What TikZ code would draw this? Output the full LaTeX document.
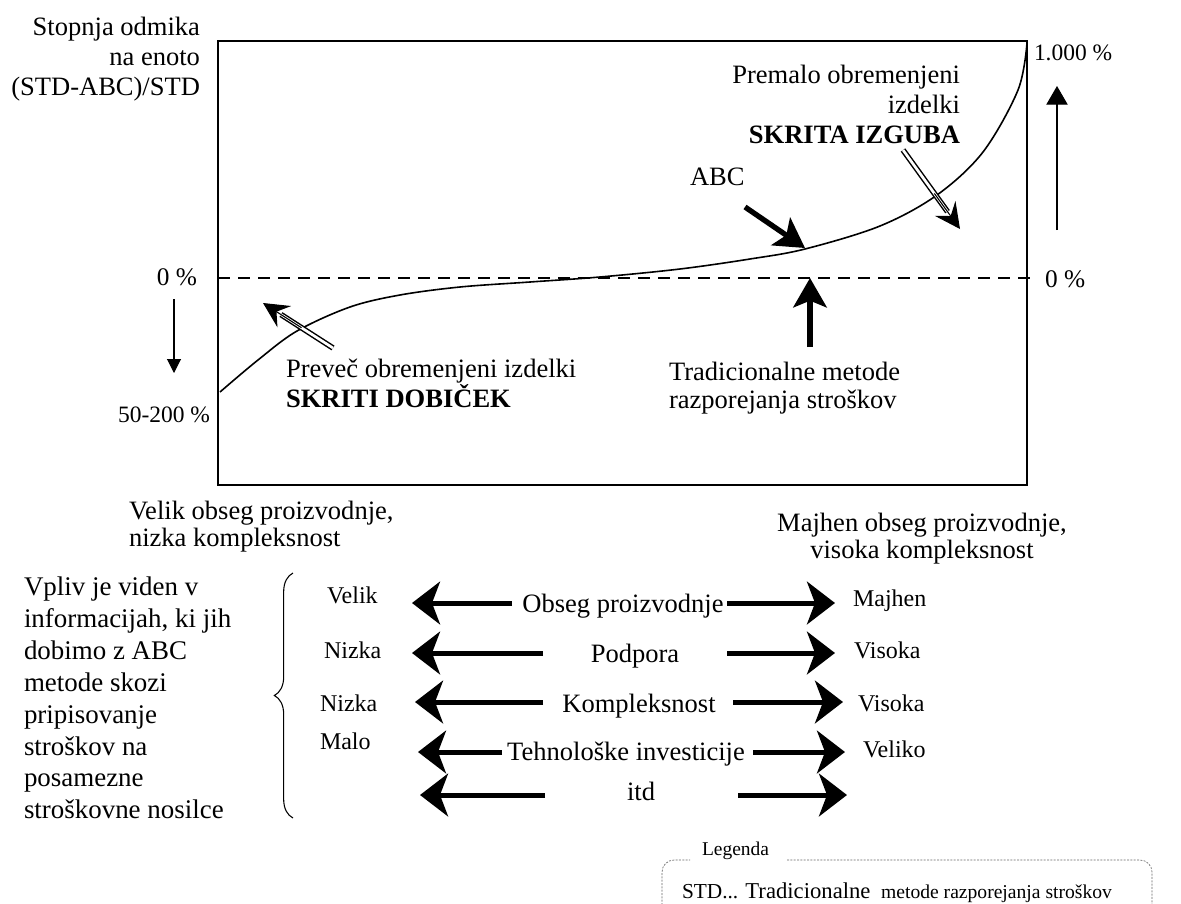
\documentclass[tikz,border=0pt]{standalone}
\usepackage{fontspec}
\setmainfont{Liberation Serif}
\usetikzlibrary{arrows.meta,decorations.pathreplacing,calc}
\newcommand{\myfs}[2]{\fontsize{#1}{#2}\selectfont}
\begin{document}
\begin{tikzpicture}[x=0.75pt,y=-0.75pt,
  txt/.style={inner sep=0pt,outer sep=0pt},
  tbig/.style={txt,font=\myfs{19.9pt}{22.5pt}},
  tmed/.style={txt,font=\myfs{17.6pt}{20pt}},
  tlab/.style={txt,font=\myfs{18pt}{20pt}},
  tzero/.style={txt,font=\myfs{19pt}{21pt}},
  frame/.style={line width=1.8pt},
  curveline/.style={line width=1.2pt},
  zeroline/.style={line width=1.5pt,dash pattern=on 9pt off 6pt},
  rowarr/.style={line width=3.75pt,-{Stealth[length=21pt,width=32pt,inset=6pt]}},
  solidarr/.style={line width=4pt,-{Stealth[length=22pt,width=25pt,inset=5pt]}},
  thinarr/.style={line width=0.8pt,-{Triangle[length=14pt,width=16pt]}},
  thinarrs/.style={line width=0.8pt,-{Triangle[length=10.5pt,width=10.5pt]}},
  dblshaft/.style={double,double distance=2pt,line width=1.1pt},
  dblhead/.style={line width=0.8pt,-{Stealth[length=19pt,width=19pt,inset=7pt]}},
  legendline/.style={draw=black!60,line width=0.5pt,dash pattern=on 1.5pt off 1pt,rounded corners=9pt}
]
\useasboundingbox (0,0) rectangle (1181,903);

% chart frame, zero line and curve
\draw[frame] (218,41) rectangle (1027,485);
\draw[zeroline] (218,278) -- (1032,278);
\draw[curveline] plot[smooth,tension=0.55] coordinates {(220,392) (258,360) (297,331) (350,307) (400,295) (460,287) (530,282) (600,277) (680,269) (750,259) (805,249) (880,226) (937,195) (983,152) (1018,90) (1027,43)};

% axis labels
\node[tbig,anchor=north east,align=right,font=\myfs{19.9pt}{22.5pt}] (ylab) at (200,17) {Stopnja odmika\\na enoto\\(STD-ABC)/STD};
\node[tmed,anchor=base west] (top) at (1034,60) {1.000 \%};
\node[tzero,anchor=base west] (zeroR) at (1045,287) {0 \%};
\node[tzero,anchor=base east] (zeroL) at (197,285) {0 \%};
\node[tmed,anchor=base east] (bot) at (210,422) {50-200 \%};

\coordinate (upS) at (1057,230); \coordinate (upT) at (1057,86);
\coordinate (dnS) at (174,299); \coordinate (dnT) at (174,373);
\draw[thinarr] (upS) -- (upT);
\draw[thinarrs] (dnS) -- (dnT);

% annotations inside chart
\node[tbig,anchor=north east,align=right] (under) at (960,65) {Premalo obremenjeni\\izdelki\\\textbf{SKRITA IZGUBA}};
\node[tbig,anchor=north west,align=left] (over) at (286,359) {Preveč obremenjeni izdelki\\\textbf{SKRITI DOBIČEK}};
\node[tbig,anchor=north west,align=left,font=\myfs{19.9pt}{21pt}] (trad) at (669,362) {Tradicionalne metode\\razporejanja stroškov};
\node[tbig,anchor=base west] (abc) at (690,185) {ABC};

\coordinate (izS) at (903,150); \coordinate (izT) at (960,229);
\coordinate (doS) at (333,348); \coordinate (doT) at (263,303);
\coordinate (abcS) at (745,207); \coordinate (abcT) at (805,248);
\coordinate (trS) at (810,347); \coordinate (trT) at (810,278);

\draw[dblshaft,shorten >=16pt] (izS) -- (izT);
\draw[dblhead] ($(izS)!0.55!(izT)$) -- (izT);
\draw[dblshaft,shorten >=16pt] (doS) -- (doT);
\draw[dblhead] ($(doS)!0.45!(doT)$) -- (doT);
\draw[solidarr] (abcS) -- (abcT);
\draw[solidarr] (trS) -- (trT);

% x-axis descriptions
\node[tbig,anchor=north west,align=left,font=\myfs{19.9pt}{20.5pt}] (xl) at (129,501) {Velik obseg proizvodnje,\\nizka kompleksnost};
\node[tbig,anchor=north,align=center,font=\myfs{19.9pt}{20.5pt}] (xr) at (922,513) {Majhen obseg proizvodnje,\\visoka kompleksnost};

% lower block
\node[txt,anchor=north west,align=left,font=\myfs{20.2pt}{23.9pt}] (vpliv) at (24,577) {Vpliv je viden v\\informacijah, ki jih\\dobimo z ABC\\metode skozi\\pripisovanje\\stroškov na\\posamezne\\stroškovne nosilce};
\coordinate (brT) at (293,573); \coordinate (brB) at (293,818);
\draw[line width=0.8pt,decorate,decoration={brace,amplitude=14pt}] (brB) -- (brT);

\node[tlab,anchor=base west] (l1) at (327,603) {Velik};
\node[tlab,anchor=base west] (l2) at (324,658) {Nizka};
\node[tlab,anchor=base west] (l3) at (320,711) {Nizka};
\node[tlab,anchor=base west] (l4) at (320,749) {Malo};
\node[tlab,anchor=base west] (r1) at (853,606) {Majhen};
\node[tlab,anchor=base west] (r2) at (854,658) {Visoka};
\node[tlab,anchor=base west] (r3) at (858,711) {Visoka};
\node[tlab,anchor=base west] (r4) at (863,757) {Veliko};

\node[tbig,anchor=base] (m1) at (623,612) {Obseg proizvodnje};
\node[tbig,anchor=base] (m2) at (635,662) {Podpora};
\node[tbig,anchor=base] (m3) at (639,712) {Kompleksnost};
\node[tbig,anchor=base] (m4) at (626,760) {Tehnološke investicije};
\node[tbig,anchor=base] (m5) at (641,800) {itd};

\coordinate (a1l) at (512,603); \coordinate (t1l) at (412,603);
\coordinate (a1r) at (727,603); \coordinate (t1r) at (835,603);
\coordinate (a2l) at (543,653); \coordinate (t2l) at (412,653);
\coordinate (a2r) at (727,653); \coordinate (t2r) at (835,653);
\coordinate (a3l) at (543,702); \coordinate (t3l) at (415,702);
\coordinate (a3r) at (733,702); \coordinate (t3r) at (843,702);
\coordinate (a4l) at (502,752); \coordinate (t4l) at (418,752);
\coordinate (a4r) at (753,752); \coordinate (t4r) at (845,752);
\coordinate (a5l) at (545,795); \coordinate (t5l) at (420,795);
\coordinate (a5r) at (738,795); \coordinate (t5r) at (847,795);
\foreach \i in {1,...,5}{
  \draw[rowarr] (a\i l) -- (t\i l);
  \draw[rowarr] (a\i r) -- (t\i r);
}

% legend
\draw[legendline] (662,915) |- (690,860);
\draw[legendline] (787,860) -| (1152,915);
\node[txt,anchor=base west,font=\myfs{14.6pt}{16pt}] (leg) at (702,855) {Legenda};
\node[txt,anchor=base west] (legtxt) at (682,898) {\myfs{16pt}{18pt}STD... {\myfs{17pt}{18pt}Tradicionalne}\ \ \myfs{14.7pt}{16pt}metode razporejanja stroškov};
\end{tikzpicture}
\end{document}
